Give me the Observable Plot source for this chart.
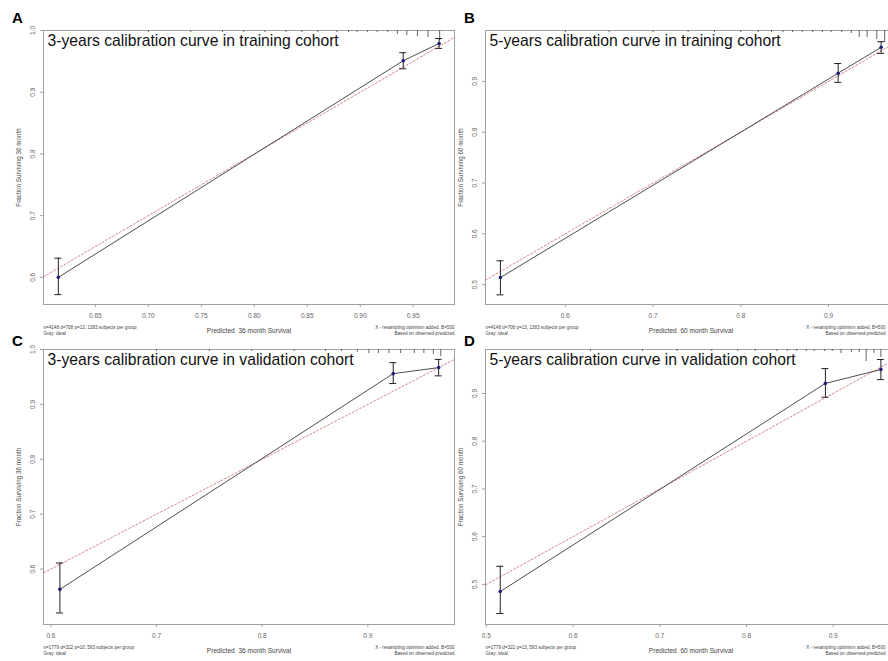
<!DOCTYPE html>
<html><head><meta charset="utf-8">
<script src="https://cdn.jsdelivr.net/npm/d3@7"></script>
<script src="https://cdn.jsdelivr.net/npm/@observablehq/plot@0.6"></script>
<style>
html,body{margin:0;padding:0;background:#fff;}
#wrap{position:relative;width:888px;height:661px;overflow:hidden;font-family:"Liberation Sans",Arial,sans-serif;}
.pnl{position:absolute;width:470px;}
.pnl svg{max-width:none !important;}
.letter{position:absolute;font-weight:bold;font-size:15px;line-height:1;color:#000;}
</style></head>
<body><div id="wrap"></div>
<script>
// ---------- data ----------
const panelLetters = ["A", "B", "C", "D"];
const titles = [
  "3-years calibration curve in training cohort",
  "5-years calibration curve in training cohort",
  "3-years calibration curve in validation cohort",
  "5-years calibration curve in validation cohort"
];
const xLabels = ["Predicted  36 month Survival", "Predicted  60 month Survival", "Predicted  36 month Survival", "Predicted  60 month Survival"];
const yLabels = ["Fraction Surviving 36 month", "Fraction Surviving 60 month", "Fraction Surviving 36 month", "Fraction Surviving 60 month"];
const notesLeft = [
  "n=4148 d=708 p=13, 1383 subjects per group",
  "n=4148 d=708 p=13, 1383 subjects per group",
  "n=1779 d=322 p=10, 593 subjects per group",
  "n=1779 d=322 p=13, 593 subjects per group"
];
const noteIdeal = "Gray: ideal";
const notesRight = ["X - resampling optimism added, B=500", "Based on observed-predicted"];

const xTicks = [
  [0.65, 0.70, 0.75, 0.80, 0.85, 0.90, 0.95],
  [0.6, 0.7, 0.8, 0.9],
  [0.6, 0.7, 0.8, 0.9],
  [0.5, 0.6, 0.7, 0.8, 0.9]
];
const xTickDigits = [2, 1, 1, 1];
const yTicks = [
  [0.6, 0.7, 0.8, 0.9, 1.0],
  [0.5, 0.6, 0.7, 0.8, 0.9],
  [0.6, 0.7, 0.8, 0.9, 1.0],
  [0.5, 0.6, 0.7, 0.8, 0.9]
];
const xDomains = [[0.601, 0.989], [0.509, 0.9775], [0.593, 0.982], [0.499, 0.973]];
const yDomains = [[0.556, 1.0], [0.461, 1.0], [0.499, 1.0], [0.416, 0.992]];

// calibration points: predicted, observed, lower & upper CI
const predicted = [[0.615, 0.9406, 0.9745], [0.526, 0.911, 0.960], [0.6085, 0.924, 0.967], [0.516, 0.891, 0.955]];
const observed  = [[0.600, 0.951, 0.979],   [0.514, 0.916, 0.967], [0.563, 0.956, 0.967],  [0.485, 0.921, 0.950]];
const lowerCI   = [[0.572, 0.938, 0.971],   [0.480, 0.898, 0.955], [0.520, 0.938, 0.952],  [0.439, 0.892, 0.929]];
const upperCI   = [[0.631, 0.964, 0.987],   [0.547, 0.935, 0.978], [0.611, 0.976, 0.982],  [0.538, 0.952, 0.971]];

// distribution of predictions (top rug): predicted value and relative frequency
const rugPred = [
  [0.70, 0.74, 0.77, 0.79, 0.81, 0.83, 0.845, 0.86, 0.878, 0.889, 0.897, 0.907, 0.916, 0.926, 0.935, 0.944, 0.954, 0.964, 0.975],
  [0.60, 0.65, 0.70, 0.74, 0.77, 0.80, 0.82, 0.835, 0.848, 0.859, 0.870, 0.882, 0.893, 0.903, 0.915, 0.926, 0.935, 0.944, 0.955, 0.964],
  [0.70, 0.75, 0.79, 0.83, 0.86, 0.875, 0.89, 0.901, 0.910, 0.920, 0.931, 0.944, 0.953, 0.962, 0.969],
  [0.62, 0.68, 0.72, 0.76, 0.79, 0.81, 0.835, 0.847, 0.858, 0.869, 0.878, 0.890, 0.899, 0.909, 0.921, 0.930, 0.938, 0.947, 0.955]
];
const rugFreq = [
  [2, 2, 2, 2, 2, 2, 2, 2, 2, 2, 2, 2, 2, 2, 4, 5, 6, 7, 10],
  [2, 2, 2, 2, 2, 2, 2, 2, 2, 2, 2, 2, 2, 2, 2, 3, 7, 7, 9, 12],
  [2, 2, 2, 2, 2, 2, 3, 4, 4, 4, 4, 4, 4, 5, 7],
  [2, 2, 2, 2, 2, 2, 2, 2, 2, 2, 2, 2, 2, 4, 3, 3, 12, 4, 8]
];

// ---------- layout ----------
const FW = 411, ML = 43, MR = 8, MT = 30;
const layout = [
  {left: 0,   top: 0,   fh: 274, mb: 42, lx: 12,  ly: 10,  ndx: 0},
  {left: 442, top: 0,   fh: 274, mb: 42, lx: 464, ly: 10,  ndx: -11},
  {left: 0,   top: 319, fh: 275, mb: 37, lx: 12,  ly: 333, ndx: 0},
  {left: 442, top: 319, fh: 275, mb: 37, lx: 464, ly: 333, ndx: -11}
];
const FONT = "'Liberation Sans', Arial, Helvetica, sans-serif";
const wrap = document.getElementById("wrap");

panelLetters.forEach((letter, i) => {
  const L = layout[i];
  const xd = xDomains[i], yd = yDomains[i];
  const xPer = (xd[1] - xd[0]) / FW;    // data units per pixel (x)
  const yPer = (yd[1] - yd[0]) / L.fh;  // data units per pixel (y)
  const pts = predicted[i].map((p, k) => ({p, o: observed[i][k], lo: lowerCI[i][k], hi: upperCI[i][k]}));
  const rug = rugPred[i].map((p, k) => ({p, n: rugFreq[i][k]}));
  const capW = 3.5 * xPer;

  const chart = Plot.plot({
    width: ML + FW + MR,
    height: MT + L.fh + L.mb,
    marginLeft: ML, marginRight: MR, marginTop: MT, marginBottom: L.mb,
    style: {background: "transparent", fontFamily: FONT, overflow: "visible", maxWidth: "none"},
    x: {domain: xd, axis: null},
    y: {domain: yd, axis: null},
    marks: [
      Plot.frame({stroke: "#a0a0a0", strokeWidth: 1}),
      // axis tick marks (outward)
      Plot.ruleX(xTicks[i], {x: d => d, y1: yd[0], y2: yd[0] - 3 * yPer, stroke: "#a0a0a0", clip: false}),
      Plot.ruleY(yTicks[i], {y: d => d, x1: xd[0], x2: xd[0] - 3 * xPer, stroke: "#a0a0a0", clip: false}),
      // rug of predictions along top
      Plot.ruleX(rug, {x: "p", y1: yd[1], y2: d => yd[1] - d.n * yPer, stroke: "#555", strokeWidth: 0.9}),
      // ideal line
      Plot.line([[xd[0], xd[0]], [xd[1], xd[1]]], {x: d => d[0], y: d => d[1], stroke: "#c86a6a", strokeWidth: 0.8, strokeDasharray: "2,2", clip: true}),
      // observed line
      Plot.line(pts, {x: "p", y: "o", stroke: "#3a3a3a", strokeWidth: 0.9}),
      // error bars
      Plot.ruleX(pts, {x: "p", y1: "lo", y2: "hi", stroke: "#222", strokeWidth: 1}),
      Plot.ruleY(pts, {y: "lo", x1: d => d.p - capW, x2: d => d.p + capW, stroke: "#222", strokeWidth: 1}),
      Plot.ruleY(pts, {y: "hi", x1: d => d.p - capW, x2: d => d.p + capW, stroke: "#222", strokeWidth: 1}),
      Plot.dot(pts, {x: "p", y: "o", r: 1.8, fill: "#1f1f78", stroke: "none"}),
      // tick labels
      Plot.text(xTicks[i], {x: d => d, frameAnchor: "bottom", dy: 11, text: d => d.toFixed(xTickDigits[i]), fontSize: 6.5, fill: "#666", lineAnchor: "middle"}),
      Plot.text(yTicks[i], {y: d => d, frameAnchor: "left", dx: -11, rotate: -90, text: d => d.toFixed(1), fontSize: 6.5, fill: "#666", textAnchor: "middle", lineAnchor: "middle"}),
      // axis titles
      Plot.text([yLabels[i]], {frameAnchor: "left", dx: -25, rotate: -90, text: d => d, fontSize: 6.3, fill: "#444", textAnchor: "middle", lineAnchor: "middle"}),
      Plot.text([xLabels[i]], {frameAnchor: "bottom", dy: 26, text: d => d, fontSize: 6.6, fill: "#444", lineAnchor: "middle"}),
      // footnotes
      Plot.text([notesLeft[i] + "\n" + noteIdeal], {frameAnchor: "bottom-left", dy: 30, text: d => d, fontSize: 4.6, lineHeight: 1.3, fill: "#444", textAnchor: "start", lineAnchor: "bottom"}),
      Plot.text([notesRight.join("\n")], {frameAnchor: "bottom-right", dx: L.ndx, dy: 30, text: d => d, fontSize: 4.6, lineHeight: 1.3, fill: "#444", textAnchor: "end", lineAnchor: "bottom"}),
      // panel title
      Plot.text([titles[i]], {frameAnchor: "top-left", dx: 4, dy: 15, text: d => d, fontSize: 15.7, fill: "#111", textAnchor: "start", lineAnchor: "bottom"})
    ]
  });
  const holder = document.createElement("div");
  holder.className = "pnl";
  holder.style.left = L.left + "px";
  holder.style.top = L.top + "px";
  holder.appendChild(chart);
  wrap.appendChild(holder);

  const lab = document.createElement("div");
  lab.className = "letter";
  lab.style.left = L.lx + "px";
  lab.style.top = L.ly + "px";
  lab.textContent = letter;
  wrap.appendChild(lab);
});
</script>
</body></html>
